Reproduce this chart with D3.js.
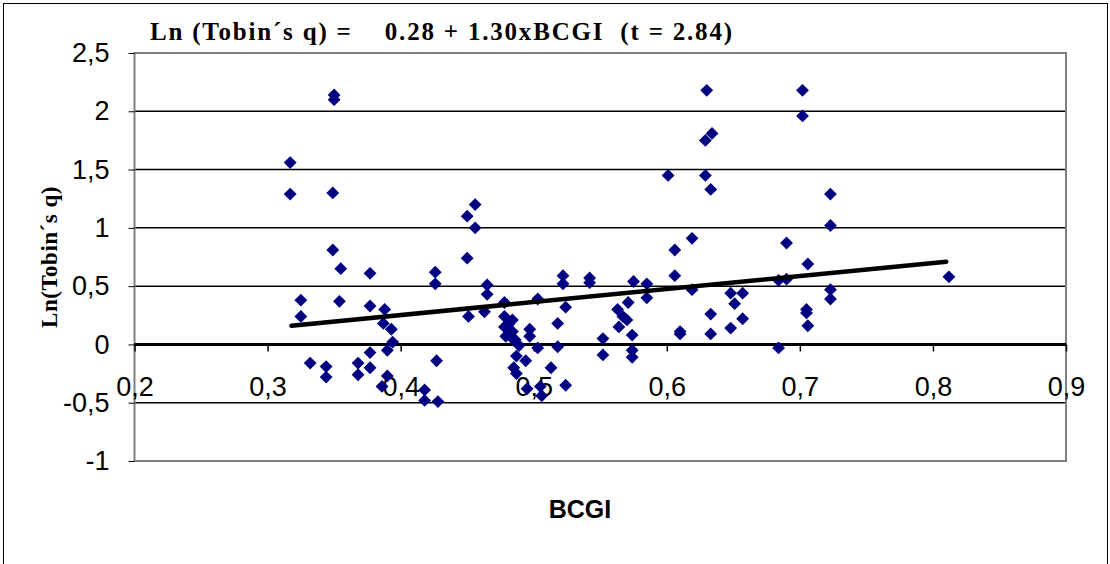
<!DOCTYPE html>
<html>
<head>
<meta charset="utf-8">
<script src="https://cdn.jsdelivr.net/npm/d3@7"></script>
<style>
  body { margin: 0; background: #fff; }
  svg { display: block; }
</style>
</head>
<body>
<script>
// BCGI (x) and Ln(Tobin's q) (y)
var bcgi = [0.317, 0.317, 0.325, 0.325, 0.332, 0.344, 0.344, 0.350, 0.350, 0.349,
            0.349, 0.355, 0.354, 0.377, 0.377, 0.368, 0.368, 0.377, 0.377, 0.388,
            0.387, 0.393, 0.394, 0.390, 0.390, 0.386, 0.426, 0.426, 0.427, 0.418,
            0.418, 0.428, 0.450, 0.456, 0.456, 0.450, 0.451, 0.463, 0.465, 0.465,
            0.478, 0.478, 0.484, 0.478, 0.484, 0.479, 0.486, 0.489, 0.487, 0.494,
            0.485, 0.487, 0.482, 0.481, 0.485, 0.497, 0.497, 0.503, 0.503, 0.495,
            0.505, 0.506, 0.513, 0.518, 0.518, 0.522, 0.522, 0.524, 0.524, 0.542,
            0.542, 0.552, 0.552, 0.575, 0.571, 0.563, 0.567, 0.570, 0.564, 0.574,
            0.574, 0.574, 0.585, 0.585, 0.601, 0.606, 0.606, 0.610, 0.610, 0.619,
            0.619, 0.630, 0.629, 0.634, 0.629, 0.633, 0.633, 0.633, 0.648, 0.657,
            0.651, 0.657, 0.648, 0.684, 0.690, 0.690, 0.684, 0.702, 0.702, 0.706,
            0.705, 0.705, 0.706, 0.723, 0.723, 0.723, 0.723, 0.812];
var lnq = [1.56, 1.29, 0.38, 0.24, -0.16, -0.19, -0.28, 2.14, 2.10, 1.30,
           0.81, 0.65, 0.37, 0.61, 0.33, -0.16, -0.26, -0.07, -0.20, 0.30,
           0.18, 0.13, 0.02, -0.05, -0.27, -0.36, 0.62, 0.52, -0.14, -0.39,
           -0.48, -0.49, 1.10, 1.20, 1.00, 0.74, 0.24, 0.28, 0.51, 0.43,
           0.36, 0.24, 0.21, 0.15, 0.11, 0.07, 0.04, -0.01, -0.10, -0.14,
           -0.20, -0.25, 0.19, 0.17, 0.04, 0.13, 0.07, 0.39, -0.03, -0.38,
           -0.36, -0.44, -0.20, 0.18, -0.02, 0.59, 0.52, 0.32, -0.35, 0.57,
           0.53, 0.05, -0.09, 0.54, 0.36, 0.30, 0.24, 0.21, 0.15, 0.08,
           -0.05, -0.11, 0.52, 0.40, 1.45, 0.81, 0.59, 0.11, 0.09, 0.91,
           0.47, 2.18, 1.75, 1.81, 1.45, 1.33, 0.26, 0.09, 0.44, 0.44,
           0.35, 0.22, 0.14, 0.55, 0.56, 0.87, -0.03, 2.18, 1.96, 0.69,
           0.30, 0.27, 0.16, 1.29, 1.02, 0.47, 0.39, 0.58];

// fitted line end points
var trendX = [0.318, 0.81];
var trendY = [0.16, 0.71];

var xTicks = [0.2, 0.3, 0.4, 0.5, 0.6, 0.7, 0.8, 0.9];
var xTickLabels = ["0,2", "0,3", "0,4", "0,5", "0,6", "0,7", "0,8", "0,9"];
var yTicks = [-1, -0.5, 0, 0.5, 1, 1.5, 2, 2.5];
var yTickLabels = ["-1", "-0,5", "0", "0,5", "1", "1,5", "2", "2,5"];

var width = 1110, height = 564;
var plotLeft = 134.5, plotRight = 1066, plotTop = 53, plotBottom = 461;

var svg = d3.select("body").append("svg")
    .attr("width", width).attr("height", height);

// outer frame
svg.append("rect")
    .attr("x", 3.5).attr("y", 3.5)
    .attr("width", 1104).attr("height", 580)
    .attr("fill", "none").attr("stroke", "#000").attr("stroke-width", 1);

var x = d3.scaleLinear().domain([0.2, 0.9]).range([plotLeft, plotRight]);
var y = d3.scaleLinear().domain([-1, 2.5]).range([plotBottom, plotTop]);

// horizontal grid lines
svg.append("g").selectAll("line")
    .data(yTicks.filter(function (d) { return d > -1 && d < 2.5 && d !== 0; }))
    .enter().append("line")
    .attr("x1", plotLeft).attr("x2", plotRight)
    .attr("y1", function (d) { return y(d); })
    .attr("y2", function (d) { return y(d); })
    .attr("stroke", "#000").attr("stroke-width", 1.5);

// plot area border
svg.append("rect")
    .attr("x", plotLeft).attr("y", plotTop)
    .attr("width", plotRight - plotLeft).attr("height", plotBottom - plotTop)
    .attr("fill", "none").attr("stroke", "#808080").attr("stroke-width", 2);

// y axis ticks
var yAxis = d3.axisLeft(y).tickValues(yTicks).tickSize(6)
    .tickFormat(function (d, i) { return yTickLabels[i]; });
var gy = svg.append("g").attr("transform", "translate(" + plotLeft + ",0)").call(yAxis);
gy.select(".domain").remove();
gy.selectAll(".tick line").attr("stroke", "#000");
gy.selectAll(".tick text")
    .attr("x", -25)
    .style("font-family", "'Liberation Sans', Arial, sans-serif")
    .style("font-size", "27px").attr("fill", "#000");

// x axis at y = 0, ticks pointing down
var xAxis = d3.axisBottom(x).tickValues(xTicks).tickSize(7)
    .tickFormat(function (d, i) { return xTickLabels[i]; });
var gx = svg.append("g").attr("transform", "translate(0," + y(0) + ")").call(xAxis);
gx.select(".domain").attr("stroke", "#000").attr("stroke-width", 3)
    .attr("d", "M" + plotLeft + ",0H" + plotRight);
gx.selectAll(".tick line").attr("stroke", "#000").attr("stroke-width", 1.5);
gx.selectAll(".tick text")
    .attr("y", 32)
    .style("font-family", "'Liberation Sans', Arial, sans-serif")
    .style("font-size", "27px").attr("fill", "#000");

// points
var sym = d3.symbol().type(d3.symbolDiamond2).size(105);
svg.append("g").selectAll("path")
    .data(bcgi)
    .enter().append("path")
    .attr("d", sym)
    .attr("transform", function (d, i) { return "translate(" + x(d) + "," + y(lnq[i]) + ")"; })
    .attr("fill", "#000080");

// trend line
svg.append("line")
    .attr("x1", x(trendX[0])).attr("y1", y(trendY[0]))
    .attr("x2", x(trendX[1])).attr("y2", y(trendY[1]))
    .attr("stroke", "#000").attr("stroke-width", 4.5).attr("stroke-linecap", "round");

// title
svg.append("text")
    .attr("x", 150).attr("y", 40)
    .attr("xml:space", "preserve")
    .style("white-space", "pre")
    .style("letter-spacing", "1.8px")
    .style("font-family", "'Liberation Serif', 'Times New Roman', serif")
    .style("font-weight", "bold").style("font-size", "25px")
    .text("Ln (Tobin\u00b4s q) =    0.28 + 1.30xBCGI  (t = 2.84)");

// axis titles
svg.append("text")
    .attr("transform", "translate(57,257) rotate(-90)")
    .attr("text-anchor", "middle")
    .style("letter-spacing", "0.5px")
    .style("font-family", "'Liberation Serif', 'Times New Roman', serif")
    .style("font-weight", "bold").style("font-size", "23px")
    .text("Ln(Tobin\u00b4s q)");

svg.append("text")
    .attr("x", 580).attr("y", 518)
    .attr("text-anchor", "middle")
    .style("font-family", "'Liberation Sans Narrow', 'Liberation Sans', Arial, sans-serif")
    .style("font-weight", "bold").style("font-size", "25px")
    .text("BCGI");
</script>
</body>
</html>
